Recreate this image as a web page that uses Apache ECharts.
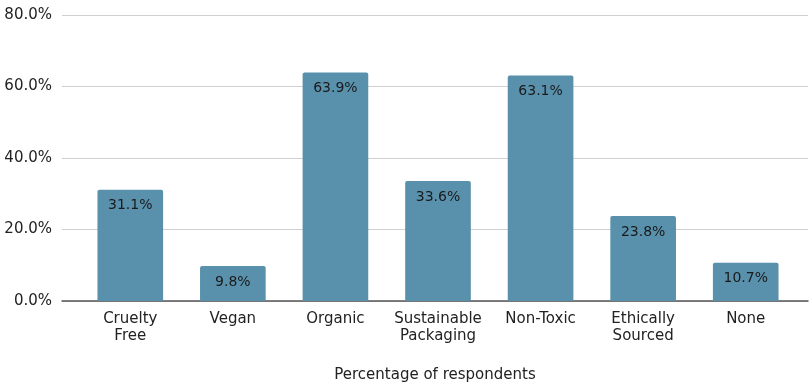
<!DOCTYPE html>
<html>
<head>
<meta charset="utf-8">
<script src="https://cdn.jsdelivr.net/npm/echarts@6/dist/echarts.min.js"></script>
<style>
  html, body { margin: 0; padding: 0; background: #ffffff; }
  #chart { width: 809px; height: 385px; }
</style>
</head>
<body>
<div id="chart"></div>
<script>
const categories = ['Cruelty\nFree', 'Vegan', 'Organic', 'Sustainable\nPackaging', 'Non-Toxic', 'Ethically\nSourced', 'None'];
const shares = [31.1, 9.8, 63.9, 33.6, 63.1, 23.8, 10.7];
const yTicks = [0, 20, 40, 60, 80];

const yMin = yTicks[0];
const yMax = yTicks[yTicks.length - 1];
const yStep = yTicks[1] - yTicks[0];

const FONT = 'DejaVu Sans, Liberation Sans, Arial';

const chart = echarts.init(document.getElementById('chart'), null, { renderer: 'canvas' });

chart.setOption({
  animation: false,
  grid: [
    // full-width grid carrying the gridlines, y labels and baseline
    { left: 62, right: 1, top: 15, bottom: 84, outerBoundsMode: 'none', containLabel: false },
    // inner grid carrying the category bands and bars
    { left: 79, right: 12, top: 15, bottom: 84, outerBoundsMode: 'none', containLabel: false }
  ],
  xAxis: [
    {
      gridIndex: 0, type: 'value', min: 0, max: 1,
      axisLine: { show: true, lineStyle: { color: '#555555', width: 1.5 } },
      axisTick: { show: false }, axisLabel: { show: false }, splitLine: { show: false },
      name: 'Percentage of respondents', nameLocation: 'middle', nameGap: 67,
      nameTextStyle: { fontFamily: FONT, fontSize: 15, color: '#222222' }
    },
    {
      gridIndex: 1, type: 'category', data: categories,
      axisLine: { show: false }, axisTick: { show: false },
      axisLabel: { fontFamily: FONT, fontSize: 15, color: '#222222', margin: 10, lineHeight: 17, interval: 0 }
    }
  ],
  yAxis: [
    {
      gridIndex: 0, type: 'value', min: yMin, max: yMax, interval: yStep,
      axisLine: { show: false }, axisTick: { show: false },
      axisLabel: {
        fontFamily: FONT, fontSize: 15, color: '#222222', margin: 10,
        formatter: v => v.toFixed(1) + '%'
      },
      splitLine: { lineStyle: { color: '#d0d0d0', width: 1 } }
    },
    {
      gridIndex: 1, type: 'value', min: yMin, max: yMax, interval: yStep,
      show: false, splitLine: { show: false }
    }
  ],
  series: [
    {
      type: 'bar', xAxisIndex: 1, yAxisIndex: 1,
      data: shares,
      barWidth: '64%',
      itemStyle: { color: '#5991ad', borderRadius: [2, 2, 0, 0] },
      label: {
        show: true, position: 'insideTop', distance: 9,
        fontFamily: FONT, fontSize: 14, color: '#1a1a1a',
        formatter: p => p.value.toFixed(1) + '%'
      }
    }
  ]
});
</script>
</body>
</html>
